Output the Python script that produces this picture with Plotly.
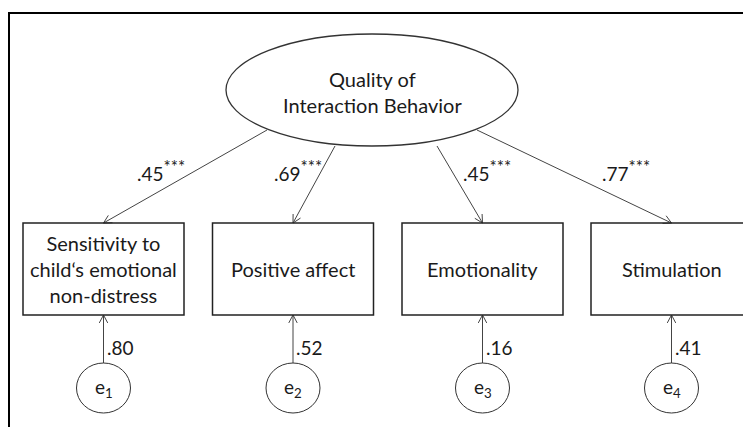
import numpy as np
import plotly.graph_objects as go

# ---- data ----
latent_label = "Quality of<br>Interaction Behavior"
indicators = ["Sensitivity to<br>child\u2018s emotional<br>non-distress", "Positive affect", "Emotionality", "Stimulation"]
loadings = [0.45, 0.69, 0.45, 0.77]
significance = ["***", "***", "***", "***"]
residuals = [0.80, 0.52, 0.16, 0.41]
error_terms = ["1", "2", "3", "4"]

# ---- layout geometry ----
W, H = 751, 427
OFF = 8  # default page body margin
FONT = "Lato"
cx, cy, rx, ry = 372, 90, 146, 56
box_cx = [103.5, 293, 482.5, 671.5]
box_hw = 80.5
box_top, box_bot = 223, 315
err_cy, err_rx, err_ry = 388, 27, 25
start_x = [267, 335, 437, 477]
start_y = [130, 146, 146, 130]
label_x = [135, 272, 461, 600]
label_y = 170

fig = go.Figure()
shapes = []
annotations = []
TXT = "#1a1a1a"

# frame
shapes.append(dict(type="rect", xref="x", yref="y", x0=9, y0=13, x1=W + 50, y1=H + 50,
                   line=dict(color="black", width=2)))
# latent ellipse
shapes.append(dict(type="circle", xref="x", yref="y", x0=cx - rx, x1=cx + rx, y0=cy - ry, y1=cy + ry,
                   line=dict(color="#333333", width=1.3)))
annotations.append(dict(x=cx, y=cy + 2, text=latent_label, showarrow=False,
                        font=dict(family=FONT, size=20, color=TXT)))

def arrow(x0, y0, x1, y1, color="#444444"):
    d = np.array([x1 - x0, y1 - y0], dtype=float)
    d /= np.hypot(*d)
    L, ang = 9, np.deg2rad(28)
    pts = []
    for s in (1, -1):
        c, sn = np.cos(s * ang), np.sin(s * ang)
        r = np.array([d[0] * c - d[1] * sn, d[0] * sn + d[1] * c])
        pts.append((x1 - L * r[0], y1 - L * r[1]))
    xs = [x0, x1, None, pts[0][0], x1, pts[1][0]]
    ys = [y0, y1, None, pts[0][1], y1, pts[1][1]]
    fig.add_trace(go.Scatter(x=xs, y=ys, mode="lines", line=dict(color=color, width=1),
                             hoverinfo="skip", showlegend=False))

for i, name in enumerate(indicators):
    bx = box_cx[i]
    shapes.append(dict(type="rect", xref="x", yref="y", x0=bx - box_hw, x1=bx + box_hw,
                       y0=box_top, y1=box_bot, line=dict(color="#222222", width=1.5)))
    annotations.append(dict(x=bx, y=(box_top + box_bot) / 2, text=name, showarrow=False,
                            font=dict(family=FONT, size=20, color=TXT)))
    # loading arrow
    arrow(start_x[i], start_y[i], bx, box_top)
    annotations.append(dict(x=label_x[i], y=label_y, xanchor="left",
                            text=f"{loadings[i]:.2f}".lstrip("0")
                            + f"<sup><span style='font-size:17px'>{significance[i]}</span></sup>",
                            showarrow=False, font=dict(family=FONT, size=19, color=TXT)))
    # error circle
    shapes.append(dict(type="circle", xref="x", yref="y", x0=bx - err_rx, x1=bx + err_rx,
                       y0=err_cy - err_ry, y1=err_cy + err_ry, line=dict(color="#333333", width=1)))
    annotations.append(dict(x=bx, y=err_cy, text=f"e<sub>{error_terms[i]}</sub>", showarrow=False,
                            font=dict(family=FONT, size=19, color=TXT)))
    arrow(bx, err_cy - err_ry, bx, box_bot)
    annotations.append(dict(x=bx + 1, y=347, xanchor="left", text=f"{residuals[i]:.2f}".lstrip("0"),
                            showarrow=False, font=dict(family=FONT, size=19, color=TXT)))

fig.update_layout(
    width=W - OFF, height=H - OFF, margin=dict(l=0, r=0, t=0, b=0),
    paper_bgcolor="white", plot_bgcolor="white",
    xaxis=dict(range=[OFF, W], visible=False, fixedrange=True),
    yaxis=dict(range=[H, OFF], visible=False, fixedrange=True),
    shapes=shapes, annotations=annotations, showlegend=False,
)
fig.write_html("out.html")
